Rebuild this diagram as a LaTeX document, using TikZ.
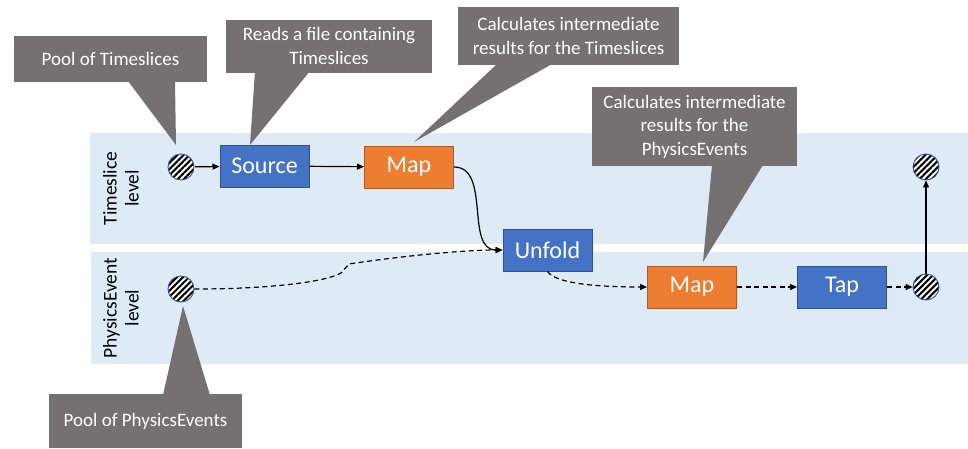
\documentclass[tikz,border=0pt]{standalone}
\usepackage{fontspec}
\setmainfont{Carlito}
\usetikzlibrary{arrows.meta,patterns.meta}

\definecolor{bandblue}{HTML}{DEEBF7}
\definecolor{opblue}{HTML}{4472C4}
\definecolor{opblueline}{HTML}{2F528F}
\definecolor{oporange}{HTML}{ED7D31}
\definecolor{oporangeline}{HTML}{AE5A21}
\definecolor{notegray}{HTML}{767171}

\begin{document}
\begin{tikzpicture}[x=1pt,y=-1pt,
  opbox/.style={rectangle, line width=1pt, minimum width=89pt, minimum height=42pt,
    inner sep=0pt, text=white, font=\fontsize{24}{28}\selectfont},
  blueop/.style={opbox, fill=opblue, draw=opblueline},
  orangeop/.style={opbox, fill=oporange, draw=oporangeline},
  pool/.style={circle, minimum size=26pt, inner sep=0pt, draw=opblueline, line width=0.9pt,
    preaction={fill=white}, pattern={Lines[angle=45,distance=4.3pt,line width=2.1pt]}},
  note/.style={rectangle, fill=notegray, text=white, inner sep=0pt, align=center,
    font=\fontsize{19}{23.5}\selectfont},
  levellabel/.style={rotate=90, align=center, inner sep=0pt,
    font=\fontsize{19.5}{22}\selectfont},
  flow/.style={line width=1.2pt, -{Triangle[length=7pt,width=6pt]}},
  dashflow/.style={flow, dash pattern=on 5pt off 3.5pt}]

\useasboundingbox (0,0) rectangle (968,448);

% level bands
\fill[bandblue] (90,133) rectangle (968,244);
\fill[bandblue] (91,252) rectangle (968,364);
\node[levellabel] (tslabel) at (121,188.5) {Timeslice\\level};
\node[levellabel] (pelabel) at (121,308) {PhysicsEvent\\level};

% pools and operators
\node[pool] (tspool) at (181,167) {};
\node[blueop] (source) at (264.5,166) {Source};
\node[orangeop] (tsmap) at (409,167) {Map};
\node[blueop] (unfold) at (547.5,250) {Unfold};
\node[pool] (pepool) at (181,289) {};
\node[orangeop] (pemap) at (692,287) {Map};
\node[blueop] (tap) at (842,287) {Tap};
\node[pool] (pesink) at (926,287) {};
\node[pool] (tssink) at (926,167) {};

% flow between stages
\draw[flow] (tspool) -- (source);
\draw[flow] (source) -- (tsmap);
\coordinate (tsc1) at (491,167);
\coordinate (tsc2) at (465,250);
\draw[flow] (tsmap.east) .. controls (tsc1) and (tsc2) .. (unfold.west);
\coordinate (bendA) at (341,273);
\coordinate (bendB) at (349,264);
\coordinate (pec1) at (270,289);
\coordinate (pec2) at (325,282);
\coordinate (pec3) at (395,257);
\coordinate (pec4) at (460,250);
\draw[dashflow] (pepool.east) .. controls (pec1) and (pec2) .. (bendA) -- (bendB)
  .. controls (pec3) and (pec4) .. (unfold.west);
\coordinate (ufc1) at (556,284);
\coordinate (ufc2) at (600,287);
\draw[dashflow] (unfold.south) .. controls (ufc1) and (ufc2) .. (pemap.west);
\draw[dashflow] (pemap) -- (tap);
\draw[dashflow] (tap) -- (pesink);
\draw[flow] (pesink) -- (tssink);

% callouts
\node[note, minimum width=193pt, minimum height=46pt] (n1) at (110.5,59) {Pool of Timeslices};
\coordinate (tip1) at (176,145);
\fill[notegray] (128,81) -- (tip1) -- (175,81) -- cycle;

\node[note, minimum width=206pt, minimum height=53pt] (n2) at (329,46) {Reads a file containing\\Timeslices};
\coordinate (tip2) at (250,145);
\fill[notegray] (255,71) -- (tip2) -- (310,71) -- cycle;

\node[note, minimum width=221pt, minimum height=58pt] (n3) at (568.5,36) {Calculates intermediate\\results for the Timeslices};
\coordinate (tip3) at (414,142);
\fill[notegray] (497,64) -- (tip3) -- (552,64) -- cycle;

\node[note, minimum width=205pt, minimum height=79pt] (n4) at (694.5,126.5) {Calculates intermediate\\results for the\\PhysicsEvents};
\coordinate (tip4) at (703,262);
\fill[notegray] (712,165) -- (tip4) -- (763,165) -- cycle;

\node[note, minimum width=193pt, minimum height=54pt] (n5) at (145.5,421) {Pool of PhysicsEvents};
\coordinate (tip5) at (183,306);
\fill[notegray] (163,395) -- (tip5) -- (210,395) -- cycle;
\end{tikzpicture}
\end{document}
